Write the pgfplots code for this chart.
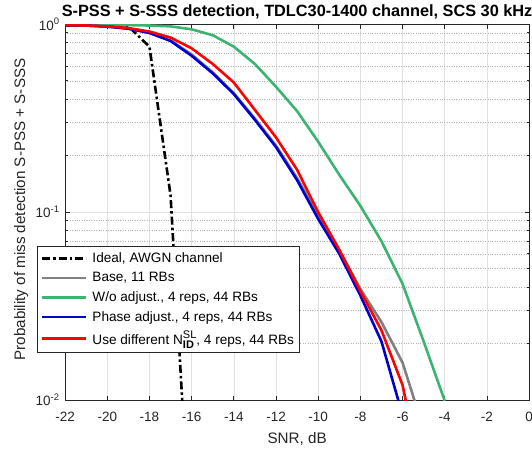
\documentclass[border=0pt]{standalone}
\usepackage{fontspec}
\setmainfont{Liberation Sans}
\usepackage{pgfplots}
\pgfplotsset{compat=1.18}
\definecolor{mgreen}{RGB}{60,179,113}
\definecolor{mblue}{RGB}{0,0,205}
\definecolor{mgray}{RGB}{128,128,128}
\definecolor{axcol}{RGB}{38,38,38}
\pgfplotsset{longlegend/.style={legend image code/.code={\draw[##1] (0pt,0pt) -- (44pt,0pt); \path (47pt,0pt);}}}
\begin{document}
\begin{tikzpicture}
\useasboundingbox (-65.1pt,-49pt) rectangle (466.9pt,400pt);
\begin{axis}[
  at={(0pt,0pt)}, anchor=south west,
  scale only axis, width=464pt, height=375.7pt,
  xmin=-22, xmax=0, ymin=0.01, ymax=1, ymode=log,
  xtick={-22,-20,-18,-16,-14,-12,-10,-8,-6,-4,-2,0},
  xticklabels={-22,-20,-18,-16,-14,-12,-10,-8,-6,-4,-2,0},
  ytick={0.01,0.1,1},
  yticklabels={10\textsuperscript{-2},10\textsuperscript{-1},10\textsuperscript{0}},
  minor ytick={0.02,0.03,0.04,0.05,0.06,0.07,0.08,0.09,0.2,0.3,0.4,0.5,0.6,0.7,0.8,0.9},
  tick align=inside,
  major tick length=4.5pt, minor tick length=2.5pt,
  every tick/.style={color=axcol, line width=0.8pt},
  axis line style={color=axcol, line width=0.9pt},
  grid=both,
  major grid style={solid, color=black!12, line width=0.6pt},
  minor grid style={dotted, color=black!30, line width=0.6pt},
  ticklabel style={font=\fontsize{13.5}{16}\selectfont, color=axcol},
  xticklabel style={anchor=base, yshift=-21.7pt},
  yticklabel style={xshift=-2pt},
  xlabel={SNR, dB},
  ylabel={Probability of miss detection S-PSS + S-SSS},
  label style={font=\fontsize{15.2}{18}\selectfont, color=axcol},
  xlabel style={at={(axis description cs:0.5,-0.1158)}, anchor=base},
  ylabel style={at={(axis description cs:-0.0864,0.507)}, anchor=base},
  every axis title shift=0pt,
  title={S-PSS + S-SSS detection, TDLC30-1400 channel, SCS 30 kHz},
  title style={font=\fontsize{16.3}{18}\selectfont\bfseries, at={(axis description cs:0.5,1)}, anchor=base, yshift=7.3pt},
  legend style={at={(-0.0606,0.41)}, anchor=north west,
    font=\fontsize{13.6}{16}\selectfont, draw=axcol, line width=0.8pt,
    fill=white, inner xsep=3.5pt, inner ysep=4.5pt, row sep=4.3pt,
    cells={anchor=west}},
  every axis plot/.append style={line width=2.6pt, line join=round, no markers},
  every axis plot post/.append style={longlegend},
]
\addplot[color=black, dash pattern=on 8pt off 3pt on 2.5pt off 3pt] table {
-22 0.985
-21 0.985
-20 0.984
-19 0.975
-18 0.76
-17 0.123
-16 0.0013
};
\addlegendentry{Ideal, AWGN channel}
\addplot[color=mgray] table {
-22 0.99
-21 0.985
-20 0.972
-19 0.948
-18 0.90
-17 0.82
-16 0.69
-15 0.555
-14 0.43
-13 0.315
-12 0.226
-11 0.152
-10 0.096
-9 0.063
-8 0.039
-7 0.026
-6 0.0158
-5 0.007
};
\addlegendentry{Base, 11 RBs}
\addplot[color=mgreen] table {
-22 0.995
-21 0.993
-20 0.99
-19 0.99
-18 0.985
-17 0.975
-16 0.94
-15 0.875
-14 0.76
-13 0.615
-12 0.465
-11 0.345
-10 0.237
-9 0.158
-8 0.108
-7 0.070
-6 0.0415
-5 0.0205
-4 0.0099
};
\addlegendentry{W/o adjust., 4 reps, 44 RBs}
\addplot[color=mblue] table {
-22 0.99
-21 0.985
-20 0.972
-19 0.948
-18 0.90
-17 0.815
-16 0.68
-15 0.548
-14 0.425
-13 0.31
-12 0.222
-11 0.148
-10 0.092
-9 0.060
-8 0.036
-7 0.0205
-6 0.0083
};
\addlegendentry{Phase adjust., 4 reps, 44 RBs}
\addplot[color=red] table {
-22 0.99
-21 0.985
-20 0.975
-19 0.955
-18 0.915
-17 0.85
-16 0.745
-15 0.615
-14 0.49
-13 0.35
-12 0.25
-11 0.168
-10 0.100
-9 0.063
-8 0.038
-7 0.0235
-6 0.012
-5 0.0035
};
\addlegendentry{Use different N\rlap{\raisebox{5.5pt}{\fontsize{11}{11}\selectfont SL}}\makebox[13.5pt][l]{\raisebox{-4.5pt}{\fontsize{11}{11}\selectfont\bfseries ID}}, 4 reps, 44 RBs}
\end{axis}
\end{tikzpicture}
\end{document}
